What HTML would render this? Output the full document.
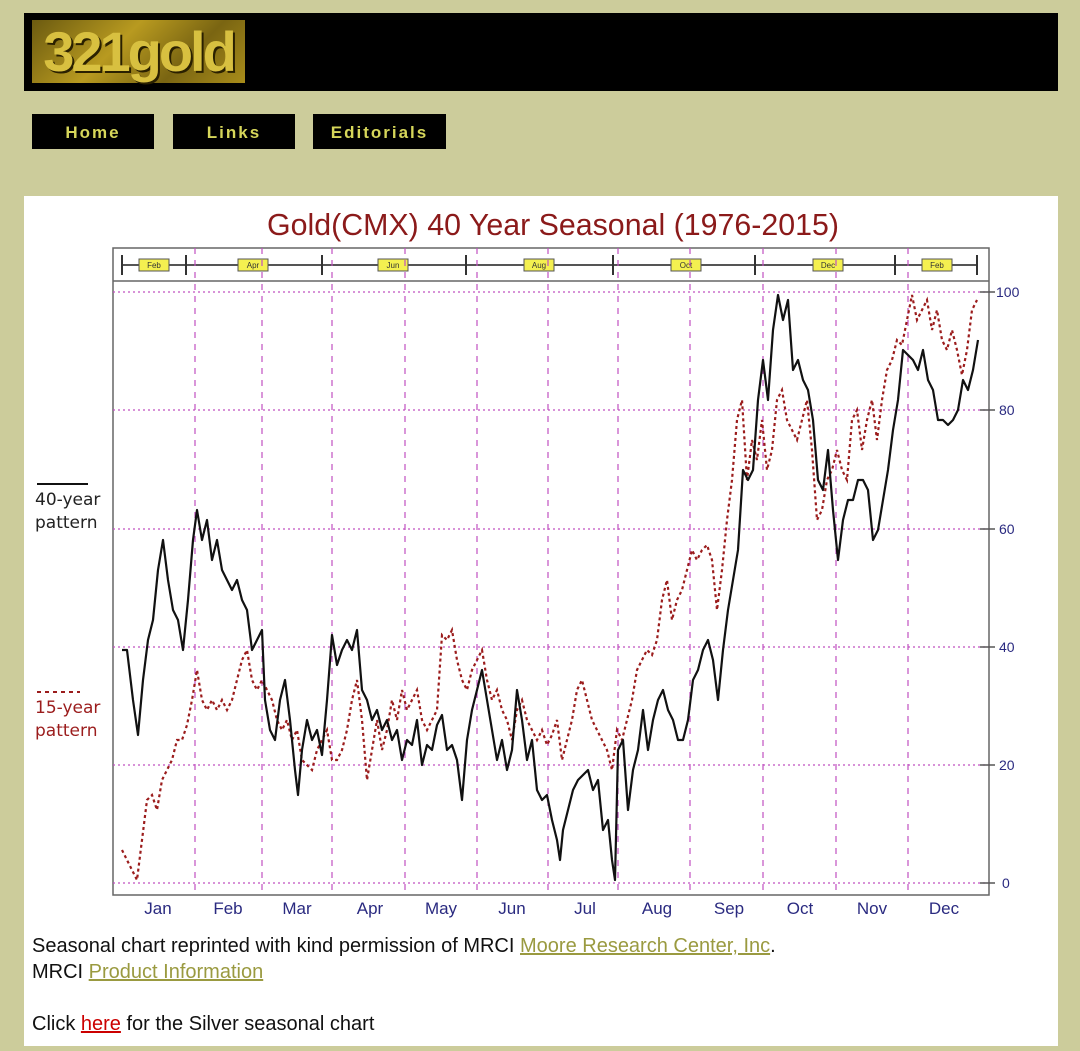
<!DOCTYPE html>
<html><head><meta charset="utf-8"><style>
html,body{margin:0;padding:0;}
body{width:1080px;height:1051px;background:#cccc9b;position:relative;overflow:hidden;font-family:"Liberation Sans",sans-serif;}
.banner{position:absolute;left:24px;top:13px;width:1034px;height:78px;background:#000;}
.logo{position:absolute;left:32px;top:20px;width:213px;height:63px;background:linear-gradient(135deg,#6b5a10,#b89a20 40%,#7a6512 70%,#a88c1a);font-family:"Liberation Sans Narrow","Liberation Sans",sans-serif;font-weight:bold;font-size:56px;color:#d8c040;line-height:63px;text-align:center;letter-spacing:-3px;text-shadow:2px 2px 0 #2a2000;}
.btn{position:absolute;top:114px;height:35px;background:#000;color:#d6d65a;font-family:"Liberation Sans",sans-serif;font-weight:bold;font-size:17px;line-height:37px;text-align:center;letter-spacing:2px;}
.panel{position:absolute;left:24px;top:196px;width:1034px;height:850px;background:#fff;}
.t{position:absolute;font-size:20px;color:#111;}
a{text-decoration:underline;}
</style></head><body>
<div class="banner"></div>
<div class="logo">321gold</div>
<div class="btn" style="left:32px;width:122px">Home</div>
<div class="btn" style="left:173px;width:122px">Links</div>
<div class="btn" style="left:313px;width:133px">Editorials</div>
<div class="panel"></div>
<svg style="position:absolute;left:0;top:0" width="1080" height="1051" xmlns="http://www.w3.org/2000/svg">
<text x="553" y="235" text-anchor="middle" font-family="Liberation Sans,sans-serif" font-size="31" fill="#8b1a1a" textLength="572" lengthAdjust="spacingAndGlyphs">Gold(CMX) 40 Year Seasonal (1976-2015)</text>
<rect x="113" y="248" width="876" height="647" fill="none" stroke="#666" stroke-width="1.5"/>
<line x1="113" y1="281" x2="989" y2="281" stroke="#666" stroke-width="1.5"/>
<line x1="122" y1="265" x2="977" y2="265" stroke="#555" stroke-width="2"/>
<g stroke="#333" stroke-width="2">
<line x1="122" y1="255" x2="122" y2="275"/><line x1="186" y1="255" x2="186" y2="275"/><line x1="322" y1="255" x2="322" y2="275"/><line x1="466" y1="255" x2="466" y2="275"/><line x1="613" y1="255" x2="613" y2="275"/><line x1="755" y1="255" x2="755" y2="275"/><line x1="895" y1="255" x2="895" y2="275"/><line x1="977" y1="255" x2="977" y2="275"/>
</g>
<g font-family="Liberation Sans,sans-serif" font-size="8" text-anchor="middle" fill="#333">
<rect x="139" y="259" width="30" height="12" fill="#f4f050" stroke="#555"/><text x="154" y="268">Feb</text>
<rect x="238" y="259" width="30" height="12" fill="#f4f050" stroke="#555"/><text x="253" y="268">Apr</text>
<rect x="378" y="259" width="30" height="12" fill="#f4f050" stroke="#555"/><text x="393" y="268">Jun</text>
<rect x="524" y="259" width="30" height="12" fill="#f4f050" stroke="#555"/><text x="539" y="268">Aug</text>
<rect x="671" y="259" width="30" height="12" fill="#f4f050" stroke="#555"/><text x="686" y="268">Oct</text>
<rect x="813" y="259" width="30" height="12" fill="#f4f050" stroke="#555"/><text x="828" y="268">Dec</text>
<rect x="922" y="259" width="30" height="12" fill="#f4f050" stroke="#555"/><text x="937" y="268">Feb</text>
</g>
<g stroke="#c050c0" stroke-width="1.2" stroke-dasharray="2,3">
<line x1="113" y1="292" x2="989" y2="292"/><line x1="113" y1="410" x2="989" y2="410"/><line x1="113" y1="529" x2="989" y2="529"/><line x1="113" y1="647" x2="989" y2="647"/><line x1="113" y1="765" x2="989" y2="765"/><line x1="113" y1="883" x2="989" y2="883"/>
</g>
<g stroke="#c050c0" stroke-width="1.2" stroke-dasharray="6,6">
<line x1="195" y1="248" x2="195" y2="895"/><line x1="262" y1="248" x2="262" y2="895"/><line x1="332" y1="248" x2="332" y2="895"/><line x1="405" y1="248" x2="405" y2="895"/><line x1="477" y1="248" x2="477" y2="895"/><line x1="548" y1="248" x2="548" y2="895"/><line x1="618" y1="248" x2="618" y2="895"/><line x1="690" y1="248" x2="690" y2="895"/><line x1="763" y1="248" x2="763" y2="895"/><line x1="836" y1="248" x2="836" y2="895"/><line x1="908" y1="248" x2="908" y2="895"/>
</g>
<g stroke="#555" stroke-width="1.5"><line x1="980" y1="292" x2="995" y2="292"/><line x1="980" y1="410" x2="995" y2="410"/><line x1="980" y1="529" x2="995" y2="529"/><line x1="980" y1="647" x2="995" y2="647"/><line x1="980" y1="765" x2="995" y2="765"/><line x1="980" y1="883" x2="995" y2="883"/></g>
<g font-family="Liberation Sans,sans-serif" font-size="14" fill="#2a2a80">
<text x="996" y="297">100</text><text x="999" y="415">80</text><text x="999" y="534">60</text><text x="999" y="652">40</text><text x="999" y="770">20</text><text x="1002" y="888">0</text>
</g>
<g font-family="Liberation Sans,sans-serif" font-size="17" fill="#2a2a80" text-anchor="middle">
<text x="158" y="914">Jan</text><text x="228" y="914">Feb</text><text x="297" y="914">Mar</text><text x="370" y="914">Apr</text><text x="441" y="914">May</text><text x="512" y="914">Jun</text><text x="585" y="914">Jul</text><text x="657" y="914">Aug</text><text x="729" y="914">Sep</text><text x="800" y="914">Oct</text><text x="872" y="914">Nov</text><text x="944" y="914">Dec</text>
</g>
<polyline fill="none" stroke="#9b1c1c" stroke-width="2.2" stroke-dasharray="3,3" points="122,850 127,860 132,870 137,880 142,840 147,800 152,795 157,810 162,780 167,770 172,760 177,740 182,740 187,725 192,700 197,670 202,700 207,710 212,700 217,710 222,700 227,710 232,700 237,680 242,660 247,650 252,680 257,690 262,680 267,690 272,700 277,720 282,730 287,720 292,740 297,730 302,760 307,765 312,770 317,750 322,740 327,730 332,760 337,760 342,750 347,730 352,700 357,680 362,720 367,780 372,750 377,720 382,750 387,730 392,700 397,720 402,690 407,710 412,700 417,690 422,720 427,730 432,720 437,710 442,635 447,640 452,630 457,660 462,680 467,690 472,670 477,660 482,650 487,680 492,700 497,690 502,710 507,720 512,740 517,710 522,700 527,720 532,730 537,740 542,730 547,745 552,735 557,720 562,760 567,740 572,720 577,690 582,680 587,700 592,720 597,730 602,740 607,750 612,770 617,730 622,740 627,720 632,700 637,670 642,660 647,650 652,655 657,640 662,600 667,580 672,620 677,600 682,590 687,570 692,550 697,560 702,550 707,545 712,560 717,610 722,570 727,520 732,480 737,420 742,400 747,480 752,440 757,460 762,420 767,470 772,450 777,400 782,390 787,420 792,430 797,440 802,420 807,400 812,450 817,520 822,510 827,480 832,470 837,450 842,470 847,480 852,420 857,410 862,450 867,420 872,400 877,440 882,400 887,370 892,360 897,340 902,345 907,320 912,295 917,320 922,310 927,300 932,330 937,310 942,340 947,350 952,330 957,350 962,375 967,350 972,310 977,300"/>
<polyline fill="none" stroke="#111" stroke-width="2.2" stroke-linejoin="round" points="122,650 127,650 133,700 138,735 143,680 148,640 153,620 158,570 163,540 168,580 173,610 178,620 183,650 188,600 193,540 197,510 202,540 207,520 212,560 217,540 222,570 227,580 232,590 237,580 242,600 247,610 252,650 257,640 262,630 265,700 270,730 275,740 280,700 285,680 290,720 295,770 298,795 302,750 307,720 312,740 317,730 322,755 327,700 332,635 337,665 342,650 347,640 352,650 357,630 362,690 367,700 372,720 377,710 382,730 387,720 392,740 397,730 402,760 407,740 412,745 417,720 422,765 427,745 432,750 437,725 442,715 447,750 452,745 457,760 462,800 467,740 472,710 477,690 482,670 487,700 492,730 497,760 502,740 507,770 512,750 517,690 522,720 527,760 532,740 537,790 542,800 547,795 552,820 557,840 560,860 563,830 568,810 573,790 578,780 583,775 588,770 593,790 598,780 603,830 608,820 612,860 615,880 618,750 623,740 628,810 633,770 638,750 643,710 648,750 653,720 658,700 663,690 668,710 673,720 678,740 683,740 688,720 693,680 698,670 703,650 708,640 713,660 718,700 723,650 728,610 733,580 738,550 743,470 748,480 753,470 758,400 763,360 768,400 773,330 778,295 783,320 788,300 793,370 798,360 803,380 808,390 813,420 818,480 823,490 828,450 833,510 838,560 843,520 848,500 853,500 858,480 863,480 868,490 873,540 878,530 883,500 888,470 893,430 898,400 903,350 908,355 913,360 918,370 923,350 928,380 933,390 938,420 943,420 948,425 953,420 958,410 963,380 968,390 973,370 978,340"/>
<line x1="37" y1="484" x2="88" y2="484" stroke="#111" stroke-width="2"/>
<line x1="37" y1="692" x2="80" y2="692" stroke="#9b1c1c" stroke-width="2" stroke-dasharray="4,4"/>
<g font-family="DejaVu Sans,sans-serif" font-size="17">
<text x="35" y="505" fill="#222">40-year</text><text x="35" y="528" fill="#222">pattern</text>
<text x="35" y="713" fill="#9b1c1c">15-year</text><text x="35" y="736" fill="#9b1c1c">pattern</text>
</g>
</svg>
<div class="t" style="left:32px;top:935px">Seasonal chart reprinted with kind permission of MRCI <a style="color:#9a9a40">Moore Research Center, Inc</a>.</div>
<div class="t" style="left:32px;top:961px">MRCI <a style="color:#9a9a40">Product Information</a></div>
<div class="t" style="left:32px;top:1013px">Click <a style="color:#cc0000">here</a> for the Silver seasonal chart</div>
</body></html>
